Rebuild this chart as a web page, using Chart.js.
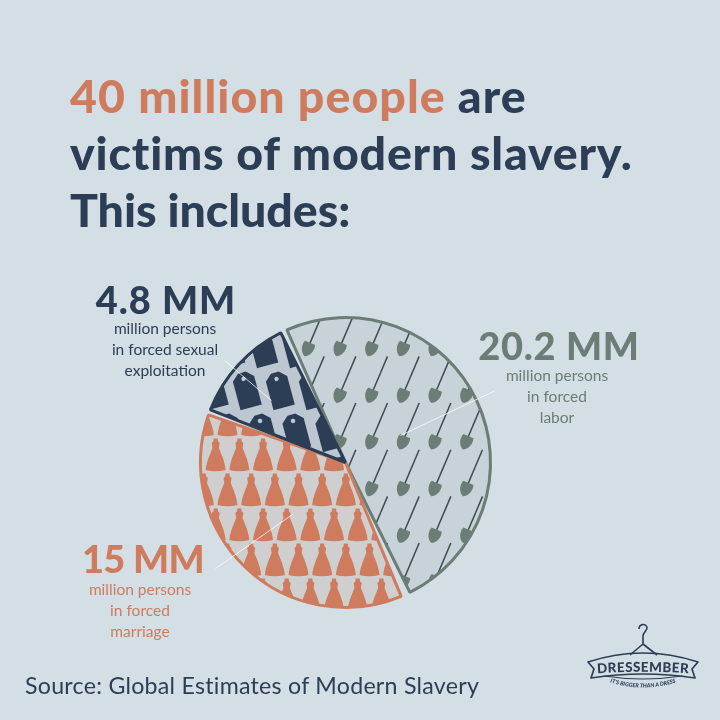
<!DOCTYPE html>
<html>
<head>
<meta charset="utf-8">
<script src="https://cdn.jsdelivr.net/npm/chart.js@4"></script>
<style>
    html, body { margin: 0; padding: 0; background: #d3dee5; }
    #wrap { position: relative; width: 720px; height: 720px; overflow: hidden; font-family: Lato, sans-serif; }
    #pie { position: absolute; left: 0; top: 0; }
    .abs { position: absolute; white-space: nowrap; }
    #title { left: 70px; top: 67px; font-size: 46.5px; line-height: 57px; font-weight: 900; color: #2c3e55; }
    #title span { color: #cf7b5e; }
    .big { font-size: 38px; font-weight: 900; line-height: 40px; text-align: center; letter-spacing: 1px; }
    .small { font-size: 15.5px; line-height: 21px; text-align: center; }
    #source { left: 25px; top: 670px; font-size: 23.2px; line-height: 30px; color: #2c3e55; letter-spacing: 0.25px; }
    #logo { left: 570px; top: 610px; }
</style>
</head>
<body>
<div id="wrap">
    <canvas id="pie" width="720" height="720"></canvas>
    <div class="abs" id="title"><div style="letter-spacing:1.05px"><span>40 million people</span> are</div><div style="letter-spacing:0.8px">victims of modern slavery.</div><div style="letter-spacing:-0.05px">This includes:</div></div>

    <div class="abs big" style="left:66px;width:200px;top:279px;color:#2c3e55">4.8 MM</div>
    <div class="abs small" style="left:65px;width:200px;top:318px;color:#2c3e55">million persons<br>in forced sexual<br>exploitation</div>

    <div class="abs big" style="left:459px;width:200px;top:325px;color:#6b7d74;letter-spacing:0.7px">20.2 MM</div>
    <div class="abs small" style="left:457px;width:200px;top:365px;color:#6b7d74">million persons<br>in forced<br>labor</div>

    <div class="abs big" style="left:43px;width:200px;top:538px;color:#cf7b5e;letter-spacing:-0.7px">15 MM</div>
    <div class="abs small" style="left:40px;width:200px;top:579px;color:#cf7b5e">million persons<br>in forced<br>marriage</div>

    <div class="abs" id="source">Source: Global Estimates of Modern Slavery</div>

    <svg class="abs" id="logo" width="140" height="90" viewBox="0 0 140 90">
        <defs>
            <path id="nameArc" d="M22 63.5 Q73 60 124 63.5"/>
            <path id="tagArc" d="M36 71 Q73 84 110 71"/>
        </defs>
        <path d="M73 34 L60 45 M73 34 L87 45 M73 34 L73 26 C73 22 78 20 77 17 C75 13 69 14 69 19" fill="none" stroke="#2c3e55" stroke-width="1.6"/>
        <path d="M18 52 Q73 34 128 52 L122 59 L125 68 Q73 60 21 68 L24 59 Z" fill="none" stroke="#2c3e55" stroke-width="1.7" stroke-linejoin="round"/>
        <path d="M34 66 Q73 72 112 66" fill="none" stroke="#2c3e55" stroke-width="1.2"/>
        <text font-family="Lato" font-weight="900" font-size="13.5" fill="#2c3e55" letter-spacing="0.4"><textPath href="#nameArc" startOffset="50%" text-anchor="middle">DRESSEMBER</textPath></text>
        <text font-family="Lato" font-weight="900" font-style="italic" font-size="5.6" fill="#2c3e55"><textPath href="#tagArc" startOffset="50%" text-anchor="middle">IT'S BIGGER THAN A DRESS</textPath></text>
    </svg>
</div>

<script>
const categories = ['Forced labor', 'Forced marriage', 'Forced sexual exploitation'];
const victimsMM = [20.2, 15, 4.8];

const NAVY = '#2c3e55';
const ORANGE = '#cf7b5e';
const SAGE = '#6b7d74';

// makes a repeating texture, the shapes are drawn on a lattice so they wrap over the tile edges
function makePattern(w, h, bg, cells, drawShape) {
    const tile = document.createElement('canvas');
    tile.width = w;
    tile.height = h;
    const c = tile.getContext('2d');
    c.fillStyle = bg;
    c.fillRect(0, 0, w, h);
    cells.forEach(([x, y]) => {
        for (let i = -1; i <= 1; i++) {
            for (let j = -1; j <= 1; j++) {
                c.save();
                c.translate(x + i * w, y + j * h);
                drawShape(c);
                c.restore();
            }
        }
    });
    return c.createPattern(tile, 'repeat');
}

function drawShovel(c) {
    c.rotate(23 * Math.PI / 180);
    c.strokeStyle = '#3d4c50';
    c.lineWidth = 1.5;
    c.beginPath();
    c.moveTo(0, -4);
    c.lineTo(0, -43);
    c.stroke();
    c.fillStyle = SAGE;
    c.beginPath();
    c.moveTo(-5.5, -7);
    c.lineTo(5.5, -7);
    c.bezierCurveTo(7.5, -1, 5, 5, 0, 7.5);
    c.bezierCurveTo(-5, 5, -7.5, -1, -5.5, -7);
    c.fill();
}

function drawTag(c) {
    c.rotate(-15 * Math.PI / 180);
    c.fillStyle = NAVY;
    c.beginPath();
    c.moveTo(-4, -18);
    c.lineTo(4, -18);
    c.lineTo(11, -11.5);
    c.lineTo(11, 18);
    c.lineTo(-11, 18);
    c.lineTo(-11, -11.5);
    c.closePath();
    c.fill();
    c.fillStyle = '#bcc7d2';
    c.beginPath();
    c.arc(0, -11.5, 2.2, 0, Math.PI * 2);
    c.fill();
}

function drawDress(c) {
    c.fillStyle = ORANGE;
    c.beginPath();
    c.moveTo(-2, -16.5);
    c.lineTo(2, -16.5);
    c.lineTo(2.3, -13.5);
    c.lineTo(4, -12);
    c.lineTo(3.2, -7);
    c.bezierCurveTo(6, 0, 9, 6, 10, 15);
    c.quadraticCurveTo(0, 17.5, -10, 15);
    c.bezierCurveTo(-9, 6, -6, 0, -3.2, -7);
    c.lineTo(-4, -12);
    c.lineTo(-2.3, -13.5);
    c.closePath();
    c.fill();
}

const shovelCells = [];
for (let i = 0; i < 3; i++) {
    for (let j = 0; j < 3; j++) {
        shovelCells.push([(370.7 + i * 31.67) % 95, (349.3 + j * 46.67) % 140]);
    }
}
const dressCells = [];
for (let i = 0; i < 3; i++) {
    dressCells.push([(286.7 + i * 23.67) % 71, 525 % 70]);
    dressCells.push([(298.5 + i * 23.67) % 71, 490 % 70]);
}
const tagCells = [[279.5 % 33, 390 % 84], [296 % 33, 432 % 84]];

const sliceFills = [
    makePattern(95, 140, '#c8d2d9', shovelCells, drawShovel),
    makePattern(71, 70, '#cfcfcf', dressCells, drawDress),
    makePattern(33, 84, '#bcc7d2', tagCells, drawTag)
];

// thin white pointers from the labels into the slices, offsets from the pie centre
const leaderLines = [
    [55, -27, 150, -72],
    [-53, 52, -130, 106],
    [-74, -62, -121, -102]
];

const leaderPlugin = {
    id: 'leaders',
    afterDraw(chart) {
        const arc = chart.getDatasetMeta(0).data[0];
        const ctx = chart.ctx;
        ctx.save();
        ctx.strokeStyle = 'rgba(255,255,255,0.75)';
        ctx.lineWidth = 1;
        leaderLines.forEach(([x1, y1, x2, y2]) => {
            ctx.beginPath();
            ctx.moveTo(arc.x + x1, arc.y + y1);
            ctx.lineTo(arc.x + x2, arc.y + y2);
            ctx.stroke();
        });
        ctx.restore();
    }
};

new Chart(document.getElementById('pie').getContext('2d'), {
    type: 'pie',
    data: {
        labels: categories,
        datasets: [{
            data: victimsMM,
            backgroundColor: sliceFills,
            borderColor: [SAGE, ORANGE, NAVY],
            borderWidth: 3,
            borderAlign: 'center',
            spacing: 3.5
        }]
    },
    options: {
        responsive: false,
        animation: false,
        rotation: -26,
        layout: { padding: { left: 199, right: 228, top: 316, bottom: 111 } },
        plugins: {
            legend: { display: false },
            tooltip: { enabled: false },
            title: { display: false }
        }
    },
    plugins: [leaderPlugin]
});
</script>
</body>
</html>
